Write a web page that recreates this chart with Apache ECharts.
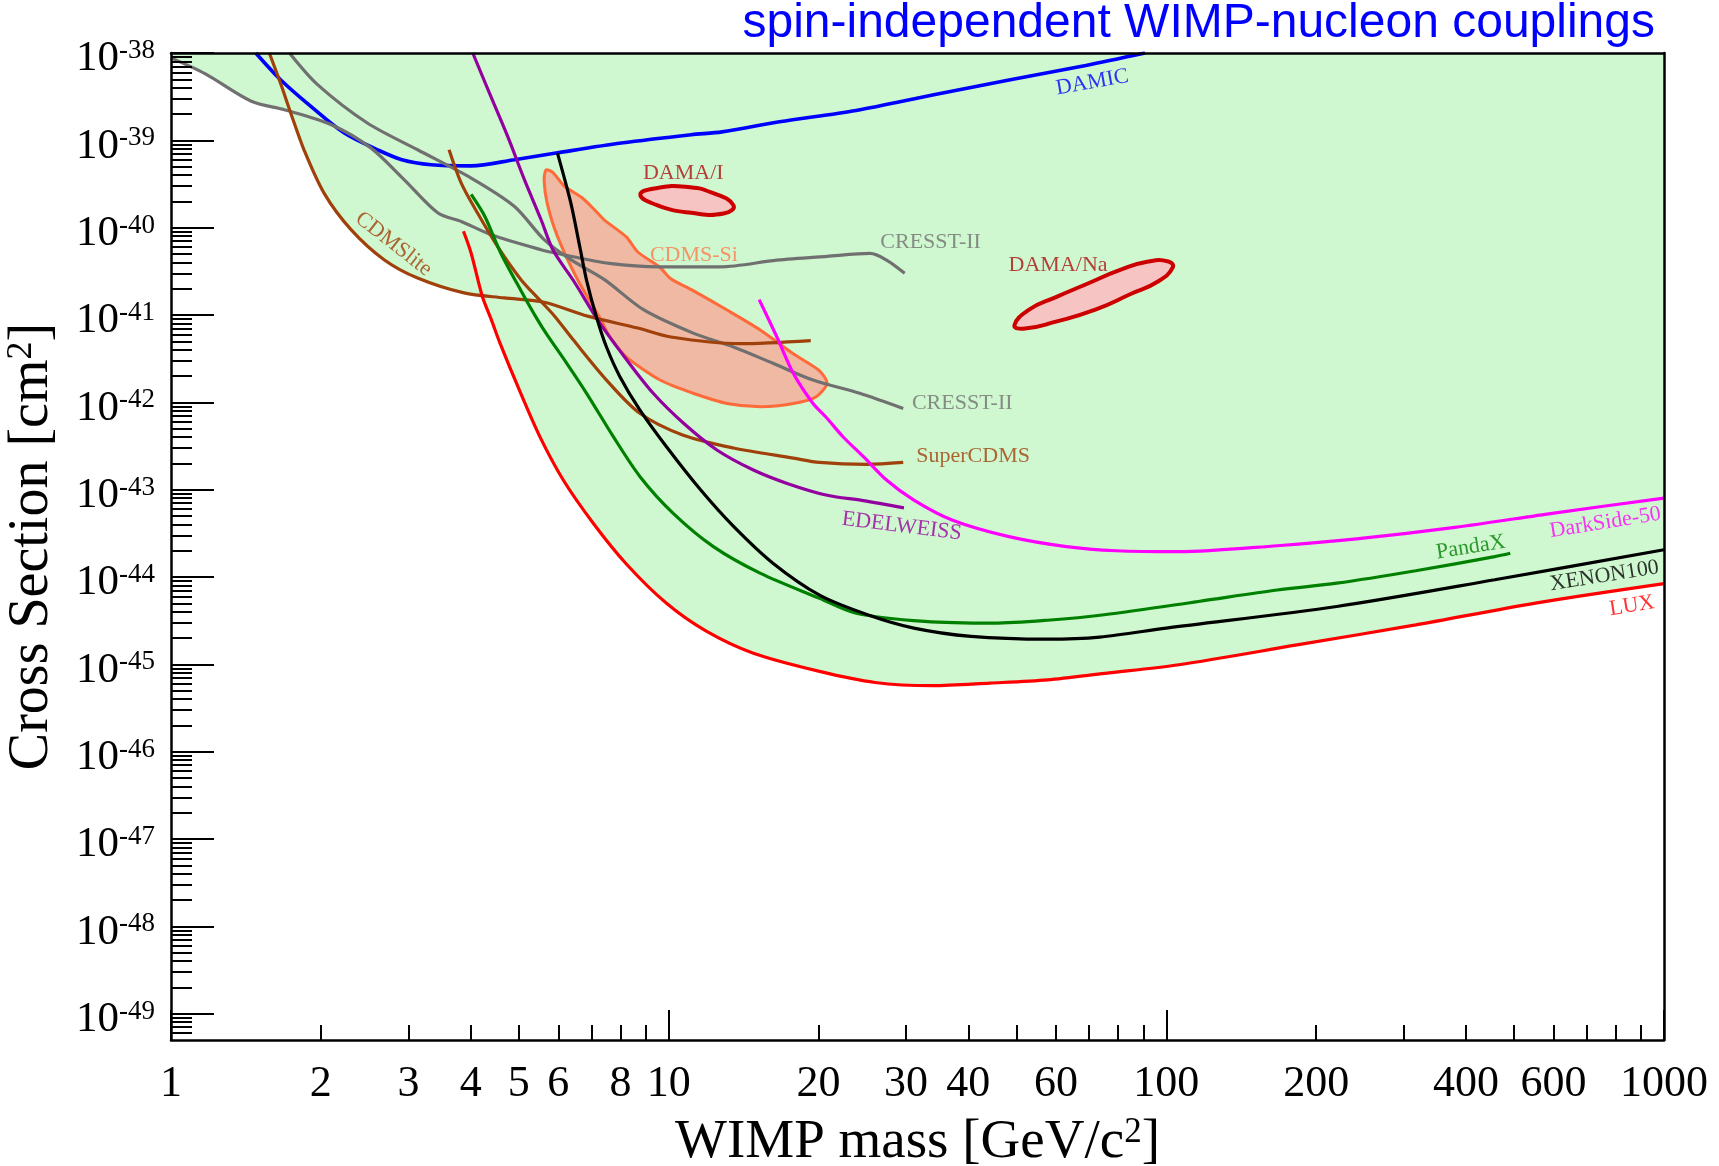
<!DOCTYPE html>
<html>
<head>
<meta charset="utf-8">
<title>spin-independent WIMP-nucleon couplings</title>
<script src="https://cdn.jsdelivr.net/npm/echarts@6.0.0/dist/echarts.min.js"></script>
<style>
  html, body { margin: 0; padding: 0; background: #ffffff; }
  #chart { width: 1719px; height: 1166px; }
</style>
</head>
<body>
<div id="chart"></div>
<script>
// WIMP mass [GeV/c^2] vs spin-independent cross section [cm^2]

// ---- exclusion limits ----
const damic = [
  [1.48, 1e-38], [1.66, 4.95e-39], [1.91, 2.45e-39], [2.23, 1.21e-39], [2.6, 7.8e-40],
  [2.91, 6.0e-40], [3.33, 5.26e-40], [4.01, 5.1e-40], [4.9, 6.0e-40], [5.98, 7.2e-40],
  [8.03, 9.3e-40], [11.1, 1.16e-39], [12.8, 1.25e-39], [16.7, 1.63e-39], [23.8, 2.2e-39],
  [33.9, 3.3e-39], [48.3, 4.9e-39], [68.9, 7.2e-39], [90.6, 1e-38]
];
const cresstLow = [
  [1, 8.8e-39], [1.17, 5.8e-39], [1.45, 2.8e-39], [1.69, 2.24e-39], [2.1, 1.51e-39],
  [2.52, 8.2e-40], [2.94, 3.55e-40], [3.44, 1.47e-40], [3.83, 1.18e-40], [4.4, 8.3e-41],
  [5.54, 5.6e-41], [6.05, 5.0e-41], [7.6, 3.9e-41], [9.6, 3.56e-41], [12.7, 3.56e-41],
  [16.5, 4.25e-41], [20.8, 4.7e-41], [25.4, 5.07e-41], [27.4, 4.25e-41], [29.8, 3.0e-41]
];
const cresstHigh = [
  [1.73, 1e-38], [1.97, 4.34e-39], [2.48, 1.58e-39], [3.13, 7.8e-40], [4.01, 3.7e-40],
  [4.9, 1.75e-40], [5.62, 7.3e-41], [6.36, 4.3e-41], [7.43, 2.54e-41], [8.9, 1.15e-41],
  [11.2, 6.2e-42], [13.5, 4.3e-42], [16.2, 2.8e-42], [19.5, 1.8e-42], [24.2, 1.27e-42],
  [29.6, 8.5e-43]
];
const cdmsLite = [
  [1.576, 1e-38], [1.66, 4.5e-39], [1.74, 2.06e-39], [1.85, 7.8e-40], [2.03, 2.49e-40],
  [2.3, 9.5e-41], [2.68, 4.3e-41], [3.13, 2.65e-41], [3.88, 1.79e-41], [4.67, 1.57e-41],
  [5.62, 1.4e-41], [6.87, 9.7e-42], [8.66, 7.1e-42], [10.1, 5.6e-42], [13.9, 4.7e-42],
  [19.3, 5.1e-42]
];
const superCdms = [
  [3.62, 7.8e-40], [3.83, 3.24e-40], [4.13, 1.47e-40], [4.53, 6.1e-41], [5.05, 2.54e-41],
  [5.51, 1.48e-41], [5.9, 9.7e-42], [6.43, 5.2e-42], [7.5, 1.8e-42], [8.75, 7.5e-43],
  [10.7, 4.2e-43], [13.5, 3.0e-43], [17.8, 2.3e-43], [20.1, 2.05e-43], [25, 1.95e-43],
  [29.6, 2.05e-43]
];
const edelweiss = [
  [4.04, 1e-38], [4.39, 3.2e-39], [4.75, 1.1e-39], [5.13, 3.55e-40], [5.54, 1.24e-40],
  [5.86, 5.5e-41], [6.43, 2.5e-41], [7.28, 8e-42], [8.24, 3.05e-42], [9.31, 1.27e-42],
  [10.7, 5.8e-43], [12.5, 2.85e-43], [14.8, 1.68e-43], [17.3, 1.18e-43], [20.7, 8.7e-44],
  [24.6, 7.5e-44], [29.7, 6.2e-44]
];
const xenon100 = [
  [5.98, 7.1e-40], [6.36, 1.91e-40], [6.63, 6.0e-41], [6.84, 2.5e-41], [7.16, 9.5e-42],
  [7.5, 4.3e-42], [7.98, 1.97e-42], [8.75, 8.2e-43], [9.9, 3.1e-43], [11.6, 9.9e-44],
  [13.5, 3.8e-44], [16.2, 1.44e-44], [20.1, 6.2e-45], [25.1, 3.7e-45], [31.1, 2.6e-45],
  [40.5, 2.09e-45], [57.7, 1.94e-45], [73.5, 2.05e-45], [100, 2.6e-45], [220, 4.6e-45],
  [457, 9.3e-45], [1000, 2.05e-44]
];
const pandaX = [
  [4.01, 2.4e-40], [4.27, 1.35e-40], [4.6, 5.1e-41], [5.05, 1.9e-41], [5.45, 8.85e-42],
  [5.69, 6.0e-42], [6.24, 2.8e-42], [6.84, 1.27e-42], [7.74, 4.05e-43], [8.76, 1.41e-43],
  [10.2, 5.4e-44], [12.3, 2.23e-44], [15.3, 1.1e-44], [20.1, 5.7e-45], [23.8, 3.85e-45],
  [32.7, 3.1e-45], [45, 2.96e-45], [57.7, 3.2e-45], [75, 3.7e-45], [116, 5.25e-45],
  [167, 7.1e-45], [220, 8.5e-45], [317, 1.18e-44], [457, 1.71e-44], [491, 1.87e-44]
];
const lux = [
  [3.87, 9.1e-41], [4.01, 5.1e-41], [4.22, 1.65e-41], [4.4, 8.9e-42], [4.58, 4.8e-42],
  [5.02, 1.35e-42], [5.51, 4.05e-43], [6.14, 1.29e-43], [7.06, 4.1e-44], [8.23, 1.4e-44],
  [9.9, 5.0e-45], [11.9, 2.4e-45], [14.8, 1.34e-45], [20.1, 8.3e-46], [26, 6.2e-46],
  [33.9, 5.7e-46], [44.2, 6.1e-46], [57.7, 6.65e-46], [75.3, 7.9e-46], [106, 9.9e-46],
  [183, 1.67e-45], [317, 2.83e-45], [548, 5.0e-45], [1000, 8.4e-45]
];
const darkSide50 = [
  [15.2, 1.5e-41], [16.5, 5.6e-42], [17.8, 2.15e-42], [19.5, 9.7e-43], [20.7, 6.8e-43],
  [22.4, 4.04e-43], [24.6, 2.4e-43], [27.4, 1.29e-43], [31.1, 7.6e-44], [37.1, 4.5e-44],
  [48.3, 2.9e-44], [63, 2.23e-44], [79.3, 2.0e-44], [106, 1.95e-44], [167, 2.28e-44],
  [241, 2.73e-44], [380, 3.7e-44], [601, 5.4e-44], [1000, 8.0e-44]
];

// ---- signal regions (closed contours) ----
const cdmsSi = [
  [5.67, 4.6e-40], [5.85, 4.3e-40], [6.17, 3.0e-40], [6.7, 2.2e-40], [7.1, 1.6e-40],
  [7.42, 1.23e-40], [8.23, 7.8e-41], [8.66, 5.3e-41], [9.61, 3.5e-41], [10.1, 2.6e-41],
  [11.2, 1.9e-41], [13.1, 1.14e-41], [15.3, 6.7e-42], [17.8, 3.6e-42], [20.1, 2.3e-42],
  [20.8, 1.65e-42], [19.8, 1.16e-42], [17.8, 9.7e-43], [15.3, 8.9e-43], [13.1, 9.7e-43],
  [11.2, 1.27e-42], [9.61, 1.8e-42], [8.23, 3.3e-42], [7.62, 5.6e-42], [7.31, 8.8e-42],
  [6.57, 2.5e-41], [5.98, 7.9e-41], [5.7, 1.9e-40], [5.62, 3.5e-40]
];
const damaI = [
  [8.77, 2.4e-40], [9.5, 2.85e-40], [10.8, 2.95e-40], [12.25, 2.5e-40], [13.5, 1.8e-40],
  [12.9, 1.45e-40], [11.1, 1.48e-40], [9.5, 1.8e-40]
];
const damaNa = [
  [49.5, 7.6e-42], [53, 1.15e-41], [60, 1.6e-41], [69, 2.25e-41], [81, 3.3e-41],
  [92, 4.1e-41], [101, 4.1e-41], [103, 3.5e-41], [96, 2.4e-41], [85, 1.75e-41],
  [72, 1.15e-41], [60, 8.4e-42], [52, 7.0e-42]
];

// ---- axis ticks ----
const xMajorTicks = [1, 10, 100, 1000];
const xLabelValues = [1, 2, 3, 4, 5, 6, 8, 10, 20, 30, 40, 60, 100, 200, 400, 600, 1000];
const yExponents = [-38, -39, -40, -41, -42, -43, -44, -45, -46, -47, -48, -49];

// ---- text on the curves ----
const curveLabels = [
  { text: 'DAMIC',       at: [71, 4.6e-39],    color: '#0000ff', rotate: 10 },
  { text: 'CDMSlite',    at: [2.8, 6.5e-41],   color: '#a0400a', rotate: -38 },
  { text: 'CRESST-II',   at: [33.6, 6.9e-41],  color: '#707070', rotate: 0 },
  { text: 'CRESST-II',   at: [38.9, 9.75e-43], color: '#707070', rotate: 0 },
  { text: 'CDMS-Si',     at: [11.24, 4.84e-41], color: '#ff7a4a', rotate: 0 },
  { text: 'DAMA/I',      at: [10.7, 4.17e-40], color: '#aa1111', rotate: 0 },
  { text: 'DAMA/Na',     at: [60.6, 3.7e-41],  color: '#aa1111', rotate: 0 },
  { text: 'SuperCDMS',   at: [40.9, 2.39e-43], color: '#a0400a', rotate: 0 },
  { text: 'EDELWEISS',   at: [29.4, 3.8e-44],  color: '#9900a0', rotate: -7 },
  { text: 'DarkSide-50', at: [762, 4.19e-44],  color: '#ff00ff', rotate: 9 },
  { text: 'PandaX',      at: [409, 2.19e-44],  color: '#008000', rotate: 9 },
  { text: 'XENON100',    at: [759, 1.03e-44],  color: '#000000', rotate: 9 },
  { text: 'LUX',         at: [862, 4.67e-45],  color: '#ff0000', rotate: 9 }
];

// lower edge of the excluded (shaded) region: the strongest limit at each mass
const envelope = [
  ...cresstLow.filter(p => p[0] < 1.7),
  ...cdmsLite.filter(p => p[0] > 1.7 && p[0] < 4.0),
  ...lux.filter(p => p[0] > 4.1)
];

// The y axis runs in units of 1e-44 cm^2 so the log scale stays clear of
// floating-point rounding; labels convert back to powers of ten in cm^2.
const Y_UNIT_EXP = -44;
const Y_UNIT = 1e-44;
const toPlot = pts => pts.map(p => [p[0], p[1] / Y_UNIT]);

const X_MIN = 1, X_MAX = 1000;
const Y_MIN = 5e-50 / Y_UNIT, Y_MAX = 1e-38 / Y_UNIT;
const serif = '"Liberation Serif", "DejaVu Serif", serif';
const sans = '"Liberation Sans", Arial, sans-serif';

const yMajorTicks = yExponents.map(e => Math.pow(10, e - Y_UNIT_EXP));
const yMinorTicks = [];
yExponents.forEach(e => {
  for (let k = 2; k <= 9; k++) yMinorTicks.push(k * Math.pow(10, e - 1 - Y_UNIT_EXP));
});
const xMinorTicks = [];
[1, 10, 100].forEach(d => { for (let k = 2; k <= 9; k++) xMinorTicks.push(k * d); });

const frame = { color: '#000', width: 2.5 };
const tickStyle = { color: '#000', width: 2 };

function curve(name, data, color, width) {
  return {
    name, type: 'line', data: toPlot(data), symbol: 'none', showSymbol: false, smooth: 0.3,
    lineStyle: { color, width: width || 3.2 }, z: 4, silent: true
  };
}

function region(name, pts, stroke, fill, lw, smooth) {
  const scaled = toPlot(pts);
  return {
    name, type: 'custom', coordinateSystem: 'cartesian2d', data: [scaled[0]], z: 3, silent: true,
    renderItem: (params, api) => ({
      type: 'polygon',
      shape: { points: scaled.map(p => api.coord(p)), smooth },
      style: { fill, stroke, lineWidth: lw }
    })
  };
}

const chart = echarts.init(document.getElementById('chart'), null, { renderer: 'canvas' });

chart.setOption({
  animation: false,
  backgroundColor: '#ffffff',
  title: {
    text: 'spin-independent WIMP-nucleon couplings',
    right: 64, top: 0, padding: 0,
    textStyle: { color: '#0000ff', fontFamily: sans, fontSize: 48, fontWeight: 'normal' }
  },
  grid: { left: 171, right: 55, top: 53, bottom: 126, containLabel: false, outerBoundsMode: 'none' },
  xAxis: [
    {
      type: 'log', logBase: 10, min: X_MIN, max: X_MAX, position: 'bottom', z: 10,
      axisLine: { show: true, lineStyle: frame },
      axisTick: { show: true, inside: true, length: 30, lineStyle: tickStyle, customValues: xMajorTicks },
      axisLabel: {
        show: true, customValues: xLabelValues, margin: 22,
        formatter: v => String(Math.round(v)),
        fontFamily: serif, fontSize: 44, color: '#000'
      },
      splitLine: { show: false },
      name: '{t|WIMP mass [GeV/c}{s|2}{t|]}',
      nameLocation: 'middle', nameGap: 75,
      nameTextStyle: {
        rich: {
          t: { fontFamily: serif, fontSize: 55, color: '#000' },
          s: { fontFamily: serif, fontSize: 35, color: '#000', verticalAlign: 'top' }
        }
      }
    },
    {
      type: 'log', logBase: 10, min: X_MIN, max: X_MAX, position: 'bottom', z: 10,
      axisLine: { show: false },
      axisTick: { show: true, inside: true, length: 15, lineStyle: tickStyle, customValues: xMinorTicks },
      axisLabel: { show: false },
      splitLine: { show: false }
    },
    {
      type: 'log', logBase: 10, min: X_MIN, max: X_MAX, position: 'top', z: 10,
      axisLine: { show: true, lineStyle: frame },
      axisTick: { show: false }, axisLabel: { show: false }, splitLine: { show: false }
    }
  ],
  yAxis: [
    {
      type: 'log', logBase: 10, min: Y_MIN, max: Y_MAX, position: 'left', z: 10,
      axisLine: { show: true, lineStyle: frame },
      axisTick: { show: true, inside: true, length: 43, lineStyle: tickStyle, customValues: yMajorTicks },
      axisLabel: {
        show: true, customValues: yMajorTicks, margin: 16, padding: [12, 0, 0, 0],
        formatter: v => '{b|10}{e|' + (Math.round(Math.log10(v)) + Y_UNIT_EXP) + '}',
        rich: {
          b: { fontFamily: serif, fontSize: 43, color: '#000' },
          e: { fontFamily: serif, fontSize: 27, color: '#000', verticalAlign: 'top' }
        }
      },
      splitLine: { show: false },
      name: '{t|Cross Section [cm}{s|2}{t|]}',
      nameLocation: 'middle', nameGap: 111,
      nameTextStyle: {
        rich: {
          t: { fontFamily: serif, fontSize: 56, color: '#000' },
          s: { fontFamily: serif, fontSize: 36, color: '#000', verticalAlign: 'top' }
        }
      }
    },
    {
      type: 'log', logBase: 10, min: Y_MIN, max: Y_MAX, position: 'left', z: 10,
      axisLine: { show: false },
      axisTick: { show: true, inside: true, length: 21, lineStyle: tickStyle, customValues: yMinorTicks },
      axisLabel: { show: false },
      splitLine: { show: false }
    },
    {
      type: 'log', logBase: 10, min: Y_MIN, max: Y_MAX, position: 'right', z: 10,
      axisLine: { show: true, lineStyle: frame },
      axisTick: { show: false }, axisLabel: { show: false }, splitLine: { show: false }
    }
  ],
  series: [
    {
      name: 'excluded', type: 'line', data: toPlot(envelope), symbol: 'none', showSymbol: false,
      smooth: 0.3, z: 1, silent: true,
      lineStyle: { width: 0, opacity: 0 },
      areaStyle: { color: '#d0f8d0', opacity: 1, origin: 'end' }
    },
    region('CDMS-Si', cdmsSi, '#ff6a3a', '#efb9a4', 3, 0.25),
    region('DAMA/I', damaI, '#cc0000', '#f7c4c4', 4, 0.5),
    region('DAMA/Na', damaNa, '#cc0000', '#f7c4c4', 4, 0.5),
    curve('DAMIC', damic, '#0000ff', 3.6),
    curve('CRESST-II low', cresstLow, '#707070'),
    curve('CRESST-II', cresstHigh, '#707070'),
    curve('CDMSlite', cdmsLite, '#a0400a'),
    curve('SuperCDMS', superCdms, '#a0400a'),
    curve('EDELWEISS', edelweiss, '#93009f'),
    curve('DarkSide-50', darkSide50, '#ff00ff'),
    curve('PandaX', pandaX, '#008000'),
    curve('XENON100', xenon100, '#000000'),
    curve('LUX', lux, '#ff0000'),
    {
      name: 'labels', type: 'scatter', symbolSize: 1, silent: true, z: 6,
      itemStyle: { color: 'rgba(0,0,0,0)' },
      data: curveLabels.map(l => ({
        value: [l.at[0], l.at[1] / Y_UNIT],
        label: {
          show: true, position: 'inside', formatter: l.text, color: l.color,
          rotate: l.rotate, fontFamily: serif, fontSize: 22
        }
      }))
    }
  ]
});
</script>
</body>
</html>
